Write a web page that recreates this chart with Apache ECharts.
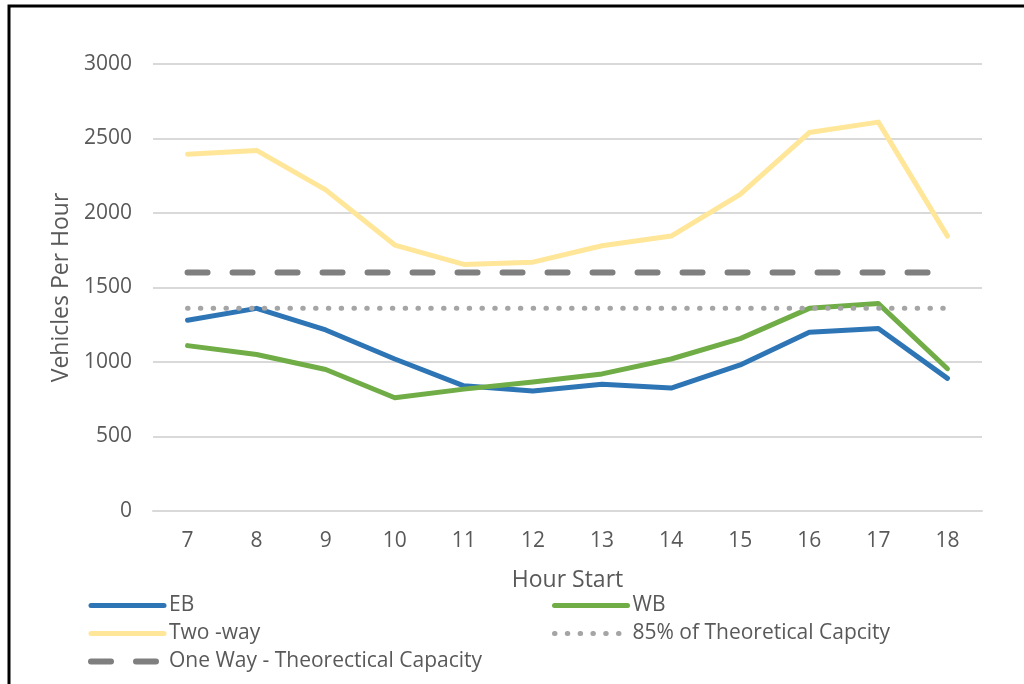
<!DOCTYPE html>
<html>
<head>
<meta charset="utf-8">
<style>
  html, body { margin: 0; padding: 0; background: #ffffff; }
  #chart { width: 1024px; height: 684px; }
</style>
<script src="https://cdn.jsdelivr.net/npm/echarts@6/dist/echarts.min.js"></script>
</head>
<body>
<div id="chart"></div>
<script>
// Hourly traffic volumes by hour start
const hours = ['7', '8', '9', '10', '11', '12', '13', '14', '15', '16', '17', '18'];
const eastbound = [1280, 1360, 1215, 1020, 840, 805, 850, 825, 980, 1200, 1225, 890];
const westbound = [1110, 1050, 950, 760, 818, 866, 920, 1020, 1157, 1360, 1392, 955];
const twoWay = [2395, 2420, 2155, 1785, 1655, 1670, 1780, 1845, 2125, 2540, 2610, 1845];
const pct85Capacity = [1360, 1360, 1360, 1360, 1360, 1360, 1360, 1360, 1360, 1360, 1360, 1360];
const oneWayCapacity = [1600, 1600, 1600, 1600, 1600, 1600, 1600, 1600, 1600, 1600, 1600, 1600];
const yTicks = [0, 500, 1000, 1500, 2000, 2500, 3000];

const FONT = '"Open Sans", Lato, sans-serif';
const TEXT = '#595959';

const chart = echarts.init(document.getElementById('chart'), null, { renderer: 'canvas' });

function lineSeries(name, data, color, width, type, z) {
  return {
    name: name,
    type: 'line',
    data: data,
    symbol: 'none',
    showSymbol: false,
    z: z,
    lineStyle: { color: color, width: width, type: type, cap: 'round', join: 'round' },
    itemStyle: { color: color },
    emphasis: { disabled: true },
    animation: false
  };
}

const legendCommon = {
  orient: 'vertical',
  padding: 0,
  itemWidth: 73,
  itemHeight: 20,
  itemGap: 7,
  textStyle: { fontFamily: FONT, fontSize: 21, lineHeight: 20, color: TEXT },
  lineStyle: { width: 'inherit', type: 'inherit', cap: 'round' },
  itemStyle: { opacity: 0 },
  selectedMode: false
};

chart.setOption({
  backgroundColor: '#ffffff',
  animation: false,
  grid: { left: 153, right: 42, top: 64, bottom: 173 },
  legend: [
    Object.assign({}, legendCommon, { left: 88, top: 595, data: ['EB', 'Two -way', 'One Way - Theorectical Capacity'] }),
    Object.assign({}, legendCommon, { left: 552, top: 595, data: ['WB', '85% of Theoretical Capcity'] })
  ],
  xAxis: {
    type: 'category',
    data: hours,
    boundaryGap: true,
    name: 'Hour Start',
    nameLocation: 'middle',
    nameGap: 58,
    nameTextStyle: { fontFamily: FONT, fontSize: 23, color: TEXT },
    axisLine: { show: true, lineStyle: { color: '#d9d9d9', width: 2 } },
    axisTick: { show: false },
    axisLabel: { fontFamily: FONT, fontSize: 21, color: TEXT, margin: 20 }
  },
  yAxis: {
    type: 'value',
    min: yTicks[0],
    max: yTicks[yTicks.length - 1],
    interval: 500,
    name: 'Vehicles Per Hour',
    nameLocation: 'middle',
    nameGap: 78,
    nameTextStyle: { fontFamily: FONT, fontSize: 23, color: TEXT },
    axisLine: { show: false },
    axisTick: { show: false },
    axisLabel: { fontFamily: FONT, fontSize: 21, color: TEXT, margin: 21, formatter: (v) => String(v) },
    splitLine: { show: true, lineStyle: { color: '#d9d9d9', width: 2 } }
  },
  series: [
    lineSeries('EB', eastbound, '#2e75b6', 5, 'solid', 3),
    lineSeries('WB', westbound, '#70ad47', 5, 'solid', 4),
    lineSeries('Two -way', twoWay, '#ffe699', 5, 'solid', 2),
    lineSeries('85% of Theoretical Capcity', pct85Capacity, '#a5a5a5', 5, [0.5, 12.3], 5),
    lineSeries('One Way - Theorectical Capacity', oneWayCapacity, '#7f7f7f', 6, [20, 25], 5)
  ],
  graphic: [
    {
      type: 'polyline',
      silent: true,
      z: 100,
      shape: { points: [[9, 684], [9, 6], [1024, 6]] },
      style: { stroke: '#000000', lineWidth: 3, fill: null }
    }
  ]
});
</script>
</body>
</html>
